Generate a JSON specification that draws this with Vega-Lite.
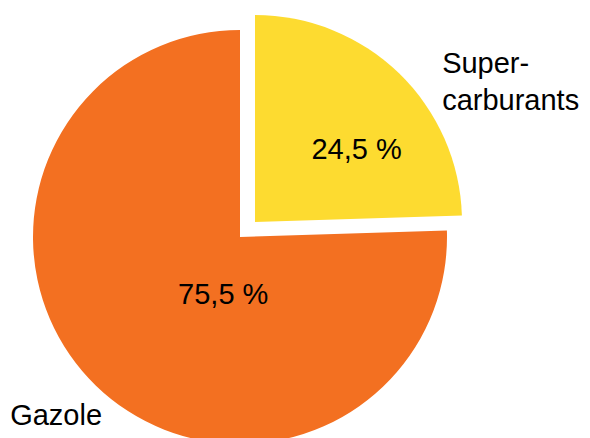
{
  "$schema": "https://vega.github.io/schema/vega-lite/v6.json",
  "width": 480,
  "height": 474,
  "autosize": {"type": "none"},
  "padding": {"left": 0, "top": 0, "right": 110, "bottom": 0},
  "background": "white",
  "config": {"view": {"stroke": null}, "text": {"font": "Liberation Sans", "fontSize": 29, "fill": "black"}},
  "data": {
    "values": [
      {"cat": "Super-carburants", "label": "Super-\ncarburants", "share": 24.5, "pct": "24,5 %"},
      {"cat": "Gazole", "label": "Gazole", "share": 75.5, "pct": "75,5 %"}
    ]
  },
  "encoding": {
    "theta": {"field": "share", "type": "quantitative", "stack": true},
    "order": {"field": "cat", "sort": "descending"},
    "color": {
      "field": "cat",
      "type": "nominal",
      "scale": {"domain": ["Super-carburants", "Gazole"], "range": ["#FDDB30", "#F37021"]},
      "legend": null
    }
  },
  "layer": [
    {
      "mark": {"type": "arc", "radius": 207, "stroke": null},
      "encoding": {
        "opacity": {"condition": {"test": "datum.cat === 'Gazole'", "value": 1}, "value": 0}
      }
    },
    {
      "mark": {"type": "arc", "radius": 207, "stroke": null, "xOffset": 15, "yOffset": -15},
      "encoding": {
        "opacity": {"condition": {"test": "datum.cat === 'Super-carburants'", "value": 1}, "value": 0}
      }
    },
    {
      "mark": {"type": "text", "radius": 60, "dx": 25, "dy": 24, "align": "center", "baseline": "alphabetic"},
      "encoding": {
        "color": {"value": "black"},
        "text": {"condition": {"test": "datum.cat === 'Gazole'", "field": "pct"}, "value": ""}
      }
    },
    {
      "mark": {"type": "text", "radius": 110, "xOffset": 15, "yOffset": -15, "dx": 25, "dy": 16, "align": "center", "baseline": "alphabetic"},
      "encoding": {
        "color": {"value": "black"},
        "text": {"condition": {"test": "datum.cat === 'Super-carburants'", "field": "pct"}, "value": ""}
      }
    },
    {
      "mark": {"type": "text", "radius": 260, "dx": -3, "dy": 1, "align": "center", "baseline": "alphabetic"},
      "encoding": {
        "color": {"value": "black"},
        "text": {"condition": {"test": "datum.cat === 'Gazole'", "field": "label"}, "value": ""}
      }
    },
    {
      "mark": {"type": "text", "radius": 210, "xOffset": 15, "yOffset": -15, "dx": 41, "dy": 2, "align": "left", "baseline": "alphabetic", "lineBreak": "\n", "lineHeight": 37},
      "encoding": {
        "color": {"value": "black"},
        "text": {"condition": {"test": "datum.cat === 'Super-carburants'", "field": "label"}, "value": ""}
      }
    }
  ]
}
